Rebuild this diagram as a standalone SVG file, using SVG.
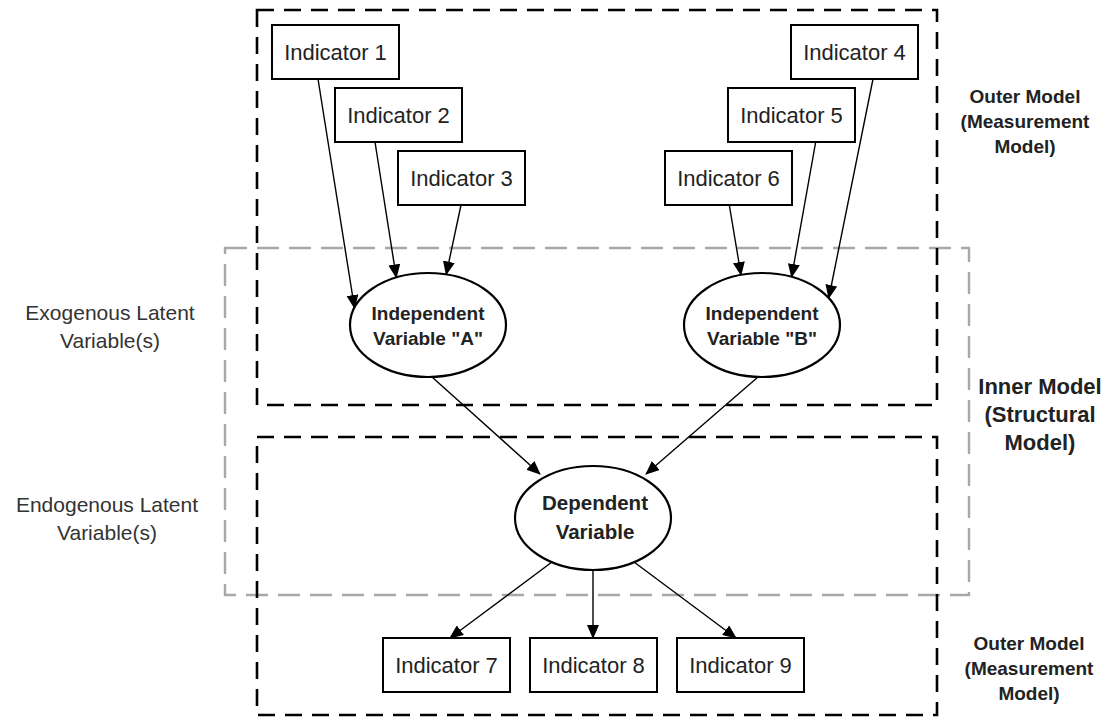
<svg xmlns="http://www.w3.org/2000/svg" width="1117" height="723" viewBox="0 0 1117 723">
<style>
.bg{fill:#fff}
.blk{fill:none;stroke:#000;stroke-width:2.6;stroke-dasharray:17 10}
.gry{fill:none;stroke:#a8a8a8;stroke-width:2.4;stroke-dasharray:22 10}
.box{fill:#fff;stroke:#000;stroke-width:2}
.ell{fill:#fff;stroke:#000;stroke-width:2.2}
.ind{font-family:"Liberation Sans",Arial,sans-serif;font-size:22px;fill:#222;text-anchor:middle}
.lv{font-family:"Liberation Sans",Arial,sans-serif;font-size:19px;font-weight:bold;fill:#222;text-anchor:middle}
.dv{font-family:"Liberation Sans",Arial,sans-serif;font-size:20.5px;font-weight:bold;fill:#222;text-anchor:middle}
.side{font-family:"Liberation Sans",Arial,sans-serif;font-size:21px;fill:#333;text-anchor:middle}
.om{font-family:"Liberation Sans",Arial,sans-serif;font-size:19px;font-weight:bold;fill:#222;text-anchor:middle}
.im{font-family:"Liberation Sans",Arial,sans-serif;font-size:22px;font-weight:bold;fill:#222;text-anchor:middle}
.con{stroke:#000;stroke-width:1.4;fill:none;marker-end:url(#ah)}
</style>
<defs>
<marker id="ah" markerUnits="userSpaceOnUse" markerWidth="14" markerHeight="12" viewBox="0 0 14 12" refX="13" refY="6" orient="auto">
<path d="M0,0 L14,6 L0,12 Z" fill="#000"/>
</marker>
</defs>
<rect class="bg" x="0" y="0" width="1117" height="723"/>

<g id="frames">
<rect class="gry" x="225" y="248" width="744" height="347"/>
<rect class="blk" x="257" y="10" width="680" height="395"/>
<rect class="blk" x="257" y="437" width="680" height="278"/>
</g>

<g id="connectors">
<line class="con" x1="318" y1="79" x2="354.5" y2="308"/>
<line class="con" x1="375" y1="142" x2="396.3" y2="277.5"/>
<line class="con" x1="461" y1="205" x2="446.2" y2="274.5"/>
<line class="con" x1="873" y1="79" x2="828.8" y2="298"/>
<line class="con" x1="815.7" y1="142" x2="791.6" y2="277"/>
<line class="con" x1="729.3" y1="205" x2="741" y2="275"/>
<line class="con" x1="432" y1="377" x2="540" y2="474"/>
<line class="con" x1="758" y1="377" x2="646" y2="474"/>
<line class="con" x1="552" y1="562" x2="450" y2="638"/>
<line class="con" x1="593" y1="570" x2="593" y2="638"/>
<line class="con" x1="634" y1="562" x2="736" y2="638"/>
</g>

<g id="indicator1"><rect class="box" x="272" y="25" width="127" height="54"/><text class="ind" x="335.5" y="60">Indicator 1</text></g>
<g id="indicator2"><rect class="box" x="335" y="88" width="127" height="54"/><text class="ind" x="398.5" y="123">Indicator 2</text></g>
<g id="indicator3"><rect class="box" x="398" y="151" width="127" height="54"/><text class="ind" x="461.5" y="186">Indicator 3</text></g>
<g id="indicator4"><rect class="box" x="791" y="25" width="127" height="54"/><text class="ind" x="854.5" y="60">Indicator 4</text></g>
<g id="indicator5"><rect class="box" x="728" y="88" width="127" height="54"/><text class="ind" x="791.5" y="123">Indicator 5</text></g>
<g id="indicator6"><rect class="box" x="665" y="151" width="127" height="54"/><text class="ind" x="728.5" y="186">Indicator 6</text></g>

<g id="varA"><ellipse class="ell" cx="428" cy="325" rx="78" ry="52"/><text class="lv" x="428" y="320">Independent</text><text class="lv" x="428" y="345">Variable "A"</text></g>
<g id="varB"><ellipse class="ell" cx="762" cy="325" rx="78" ry="52"/><text class="lv" x="762" y="320">Independent</text><text class="lv" x="762" y="345">Variable "B"</text></g>
<g id="depVar"><ellipse class="ell" cx="593" cy="518" rx="78" ry="52"/><text class="dv" x="595" y="510">Dependent</text><text class="dv" x="595" y="539">Variable</text></g>

<g id="indicator7"><rect class="box" x="383" y="638" width="127" height="54"/><text class="ind" x="446.5" y="673">Indicator 7</text></g>
<g id="indicator8"><rect class="box" x="530" y="638" width="127" height="54"/><text class="ind" x="593.5" y="673">Indicator 8</text></g>
<g id="indicator9"><rect class="box" x="677" y="638" width="127" height="54"/><text class="ind" x="740.5" y="673">Indicator 9</text></g>

<g id="labels">
<text class="side" x="110" y="320">Exogenous Latent</text>
<text class="side" x="110" y="348">Variable(s)</text>
<text class="side" x="107" y="512">Endogenous Latent</text>
<text class="side" x="107" y="540">Variable(s)</text>
<text class="om" x="1025" y="103">Outer Model</text>
<text class="om" x="1025" y="128">(Measurement</text>
<text class="om" x="1025" y="153">Model)</text>
<text class="im" x="1040" y="394">Inner Model</text>
<text class="im" x="1040" y="422">(Structural</text>
<text class="im" x="1040" y="450">Model)</text>
<text class="om" x="1029" y="650">Outer Model</text>
<text class="om" x="1029" y="675">(Measurement</text>
<text class="om" x="1029" y="700">Model)</text>
</g>
</svg>
